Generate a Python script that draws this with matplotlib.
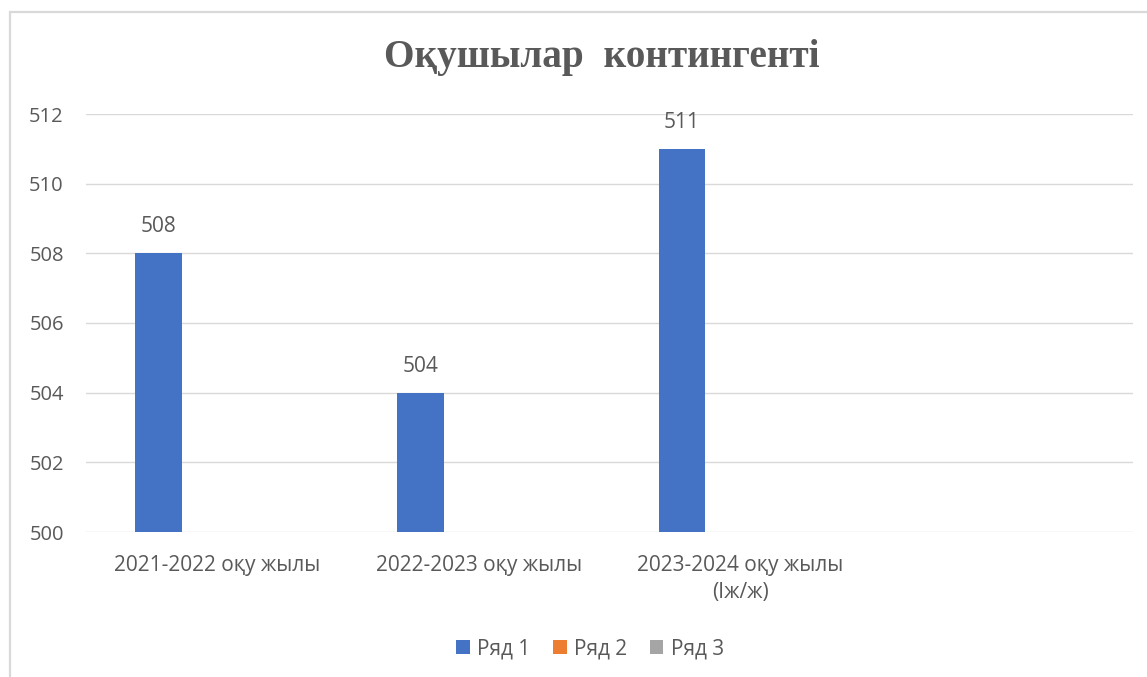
import numpy as np
import matplotlib
matplotlib.use("Agg")
from matplotlib import pyplot as plt
from matplotlib.patches import Rectangle

plt.rcParams['font.family'] = ['Open Sans', 'DejaVu Sans']

# chart data
categories = ["2021-2022 оқу жылы", "2022-2023 оқу жылы", "2023-2024 оқу жылы\n(Іж/ж)", ""]
series_names = ["Ряд 1", "Ряд 2", "Ряд 3"]
row1 = [508, 504, 511, np.nan]
row2 = [np.nan, np.nan, np.nan, np.nan]
row3 = [np.nan, np.nan, np.nan, np.nan]
yticks = [500, 502, 504, 506, 508, 510, 512]
title = "Оқушылар  контингенті"

colors = ["#4472C4", "#ED7D31", "#A5A5A5"]
txt_clr = "#595959"
grid_clr = "#D9D9D9"

W, H = 1147, 677
fig = plt.figure(figsize=(W / 100, H / 100), dpi=100)
ax = fig.add_axes([86 / W, 1 - 532 / H, 1047 / W, 418 / H])

# outer chart frame (only left/top visible in the screenshot)
fig.patches.append(Rectangle((10 / W, -0.1), 1.2, 1.1 - 11.5 / H, transform=fig.transFigure,
                             fill=False, edgecolor=grid_clr, linewidth=1.6))

x = np.arange(len(categories))
width = 0.178
offsets = [-0.223, 0.0, 0.223]
bars = []
for vals, name, clr, off in zip([row1, row2, row3], series_names, colors, offsets):
    b = ax.bar(x + off, vals, width, color=clr, label=name, zorder=3)
    bars.append(b)

for xi, v in zip(x, row1):
    if not np.isnan(v):
        ax.annotate(str(int(v)), (xi + offsets[0], v), xytext=(0, 19), textcoords="offset points",
                    ha="center", va="center", fontsize=15, color=txt_clr)

ax.set_xlim(-0.5, len(categories) - 0.5)
ax.set_ylim(500, 512)
ax.set_yticks(yticks)
ax.set_yticklabels([str(t) for t in yticks])
ax.yaxis.grid(True, color=grid_clr, linewidth=1.0, zorder=0)
ax.set_axisbelow(True)
for s in ax.spines.values():
    s.set_visible(False)
ax.set_xticks(x)
ax.set_xticklabels(categories)
ax.tick_params(axis="both", length=0, labelcolor=txt_clr)
ax.tick_params(axis="x", pad=16.5, labelsize=15)
ax.tick_params(axis="y", pad=16, labelsize=14.5)
for lbl in ax.get_xticklabels():
    lbl.set_linespacing(1.4)

fig.text(602 / W, 1 - 58 / H, title, ha="center", va="center", fontsize=28.3, fontweight="bold",
         family="Liberation Serif", color=txt_clr)

leg = fig.legend(handles=[b for b in bars], labels=series_names, loc="center",
                 bbox_to_anchor=(590 / W, 1 - 649 / H), ncol=3, frameon=False, fontsize=15,
                 handlelength=0.65, handleheight=0.65, handletextpad=0.35, columnspacing=1.1)
for t in leg.get_texts():
    t.set_color(txt_clr)

fig.savefig("out.png", dpi=100)
